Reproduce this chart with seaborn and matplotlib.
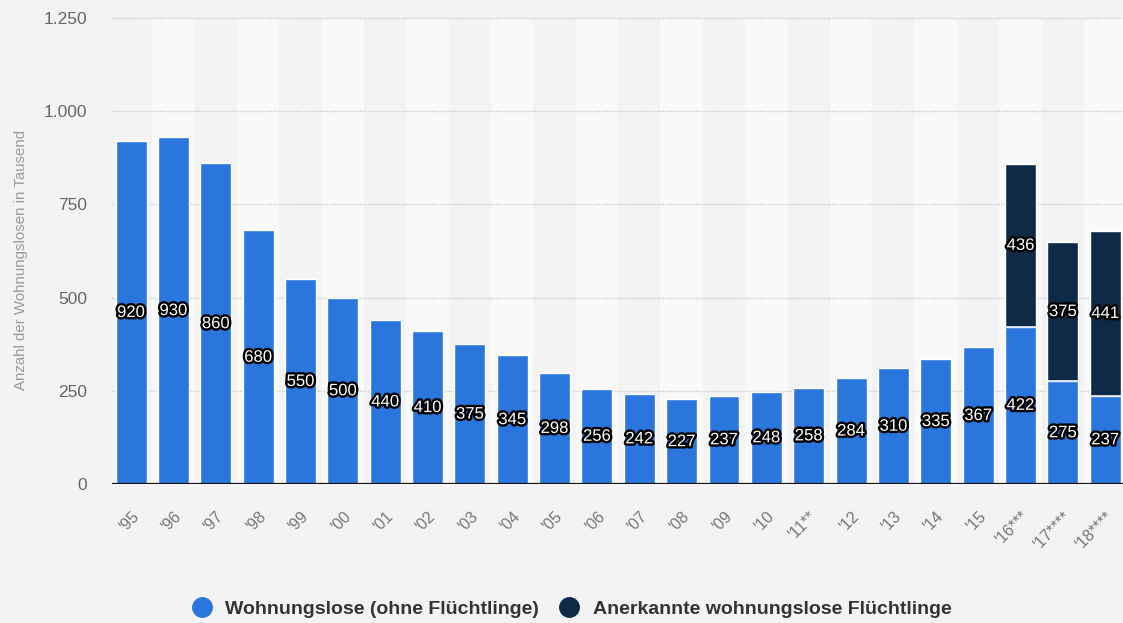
import matplotlib
matplotlib.use("Agg")
import matplotlib.pyplot as plt
import matplotlib.patheffects as pe
from matplotlib.lines import Line2D
import seaborn as sns
import pandas as pd

# Homeless people in Germany (thousands), 1995-2018
years = ["'95", "'96", "'97", "'98", "'99", "'00", "'01", "'02", "'03", "'04",
         "'05", "'06", "'07", "'08", "'09", "'10", "'11**", "'12", "'13", "'14",
         "'15", "'16***", "'17****", "'18****"]
homeless = [920, 930, 860, 680, 550, 500, 440, 410, 375, 345,
            298, 256, 242, 227, 237, 248, 258, 284, 310, 335,
            367, 422, 275, 237]
refugees = [0, 0, 0, 0, 0, 0, 0, 0, 0, 0,
            0, 0, 0, 0, 0, 0, 0, 0, 0, 0,
            0, 436, 375, 441]
series_names = ["Wohnungslose (ohne Flüchtlinge)", "Anerkannte wohnungslose Flüchtlinge"]
y_ticks = [0, 250, 500, 750, 1000, 1250]
y_tick_labels = ["0", "250", "500", "750", "1.000", "1.250"]
y_label = "Anzahl der Wohnungslosen in Tausend"

BLUE = "#2a76dd"
NAVY = "#0e2a47"
BG = "#f3f3f3"
BAND = "#f9f9f9"

sns.set_theme(style="white")
plt.rcParams["font.family"] = ["Liberation Sans", "DejaVu Sans"]

df = pd.DataFrame({"year": years, "homeless": homeless, "refugees": refugees})
df["total"] = df["homeless"] + df["refugees"]

fig = plt.figure(figsize=(11.23, 6.23), dpi=100, facecolor=BG)
ax = fig.add_axes([112 / 1123, (623 - 484) / 623, (1123 - 112) / 1123, 466 / 623])
ax.set_facecolor(BG)

# alternating column bands
for i in range(len(years)):
    if i % 2 == 1:
        ax.axvspan(i - 0.5, i + 0.5, color=BAND, zorder=0, lw=0)

# dotted horizontal grid
for t in y_ticks[1:]:
    ax.axhline(t, color="#c8c8c8", lw=1.0, ls=(0, (1, 1)), zorder=1, clip_on=False)

# stacked bars: totals in navy, homeless part in blue on top
sns.barplot(data=df, x="year", y="total", color=NAVY, width=0.73,
            saturation=1, ax=ax, zorder=2)
sns.barplot(data=df, x="year", y="homeless", color=BLUE, width=0.73,
            saturation=1, ax=ax, zorder=3)

# thin light separator between the two segments
for i, (h, r) in enumerate(zip(homeless, refugees)):
    if r > 0:
        ax.plot([i - 0.365, i + 0.365], [h, h], color="#e8eef7", lw=1.2, zorder=4,
                solid_capstyle="butt")

ax.axhline(0, color="#111111", lw=1.6, zorder=5)

stroke = [pe.withStroke(linewidth=3.4, foreground="black")]
for i, (h, r) in enumerate(zip(homeless, refugees)):
    ax.text(i, h / 2, str(h), ha="center", va="center", color="white",
            fontsize=12, path_effects=stroke, zorder=6)
    if r > 0:
        ax.text(i, h + r / 2, str(r), ha="center", va="center", color="white",
                fontsize=12, path_effects=stroke, zorder=6)

ax.set_xlim(-0.45, 23.42)
ax.set_ylim(0, 1250)
ax.set_yticks(y_ticks)
ax.set_yticklabels(y_tick_labels, color="#666666", fontsize=12.5)
ax.tick_params(axis="y", length=0, pad=18)
ax.set_xticks(range(len(years)))
ax.set_xticklabels(years, rotation=45, ha="right", rotation_mode="anchor",
                   color="#777777", fontsize=11.5)
ax.tick_params(axis="x", length=0, pad=18)
ax.set_xlabel("")
ax.set_ylabel(y_label, color="#999999", fontsize=10.8)
ax.yaxis.set_label_coords(-84 / 1011, 0.48)
for s in ax.spines.values():
    s.set_visible(False)

handles = [Line2D([0], [0], marker="o", ls="", markersize=14, markerfacecolor=c,
                  markeredgecolor=c) for c in (BLUE, NAVY)]
leg = fig.legend(handles, series_names, loc="center", ncol=2, frameon=False,
                 bbox_to_anchor=(567 / 1123, 1 - 609 / 623), handletextpad=0.2,
                 columnspacing=0.55, prop={"weight": "bold", "size": 14})
for t in leg.get_texts():
    t.set_color("#333333")

fig.savefig("out.png", dpi=100, facecolor=BG)
